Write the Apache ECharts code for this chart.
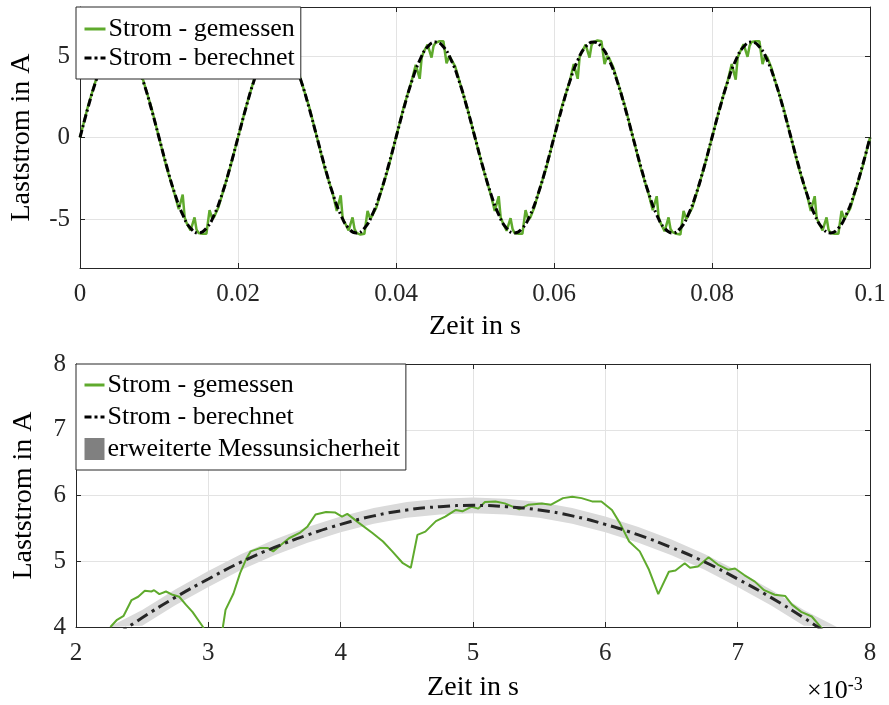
<!DOCTYPE html>
<html>
<head>
<meta charset="utf-8">
<script src="https://cdn.jsdelivr.net/npm/echarts@6/dist/echarts.min.js"></script>
<style>
  html, body { margin: 0; padding: 0; background: #fff; }
  #chart { width: 889px; height: 705px; }
</style>
</head>
<body>
<div id="chart"></div>
<script>
// ---- top plot: 0 .. 0.1 s (x values in ms) ----
const topCalcTime = [];
for (let i = 0; i <= 100; i++) topCalcTime.push(i);
const topCalc = [
  0, 1.81, 3.44, 4.73, 5.56, 5.85, 5.56, 4.73, 3.44, 1.81,
  0, -1.81, -3.44, -4.73, -5.56, -5.85, -5.56, -4.73, -3.44, -1.81,
  0, 1.81, 3.44, 4.73, 5.56, 5.85, 5.56, 4.73, 3.44, 1.81,
  0, -1.81, -3.44, -4.73, -5.56, -5.85, -5.56, -4.73, -3.44, -1.81,
  0, 1.81, 3.44, 4.73, 5.56, 5.85, 5.56, 4.73, 3.44, 1.81,
  0, -1.81, -3.44, -4.73, -5.56, -5.85, -5.56, -4.73, -3.44, -1.81,
  0, 1.81, 3.44, 4.73, 5.56, 5.85, 5.56, 4.73, 3.44, 1.81,
  0, -1.81, -3.44, -4.73, -5.56, -5.85, -5.56, -4.73, -3.44, -1.81,
  0, 1.81, 3.44, 4.73, 5.56, 5.85, 5.56, 4.73, 3.44, 1.81,
  0, -1.81, -3.44, -4.73, -5.56, -5.85, -5.56, -4.73, -3.44, -1.81,
  0
];

// sample offsets (ms) inside each 10 ms half wave of the measured current
const topMeasOffsets = [0, 1, 2, 2.5, 2.75, 3, 3.25, 3.5, 4, 4.5, 4.75, 5, 5.5, 6, 6.4, 6.75, 7, 7.5, 8, 9];
const topMeas = [
  0, 1.9, 3.5, 4.5, 4.5, 3.6, 4.9, 5.2, 5.72, 4.9, 5.6, 5.85, 5.9, 5.9, 4.5, 5.0, 4.9, 4.3, 3.5, 1.9,
  0, -1.9, -3.5, -4.4, -4.5, -3.5, -4.9, -5.25, -5.7, -4.9, -5.65, -5.85, -5.9, -5.9, -4.45, -5.0, -4.85, -4.3, -3.5, -1.85,
  0, 1.85, 3.5, 4.5, 4.55, 3.65, 4.9, 5.2, 5.75, 4.95, 5.6, 5.85, 5.9, 5.95, 4.5, 5.05, 4.9, 4.3, 3.45, 1.9,
  0, -1.9, -3.45, -4.5, -4.5, -3.55, -4.95, -5.2, -5.7, -4.9, -5.6, -5.85, -5.95, -5.9, -4.5, -5.0, -4.9, -4.3, -3.5, -1.9,
  0, 1.9, 3.5, 4.45, 4.5, 3.6, 4.9, 5.25, 5.7, 4.9, 5.6, 5.8, 5.9, 5.9, 4.55, 5.0, 4.9, 4.35, 3.5, 1.85,
  0, -1.85, -3.5, -4.5, -4.55, -3.6, -4.9, -5.2, -5.72, -4.95, -5.6, -5.85, -5.9, -5.9, -4.45, -5.05, -4.9, -4.3, -3.45, -1.9,
  0, 1.9, 3.45, 4.5, 4.5, 3.6, 4.95, 5.2, 5.7, 4.9, 5.65, 5.85, 5.95, 5.9, 4.5, 5.0, 4.85, 4.3, 3.5, 1.9,
  0, -1.9, -3.5, -4.45, -4.5, -3.6, -4.9, -5.25, -5.75, -4.9, -5.6, -5.8, -5.9, -5.95, -4.5, -5.0, -4.9, -4.3, -3.5, -1.85,
  0, 1.85, 3.5, 4.5, 4.55, 3.55, 4.9, 5.2, 5.72, 4.95, 5.6, 5.85, 5.9, 5.9, 4.5, 5.05, 4.9, 4.3, 3.45, 1.9,
  0, -1.9, -3.45, -4.5, -4.5, -3.6, -4.95, -5.2, -5.7, -4.9, -5.65, -5.85, -5.9, -5.9, -4.5, -5.0, -4.9, -4.35, -3.5, -1.9,
  0
];
const topYTicks = [-5, 0, 5];

// ---- bottom plot: zoom 2 .. 8 ms ----
const botCalcTime = [2, 2.25, 2.5, 2.75, 3, 3.25, 3.5, 3.75, 4, 4.25, 4.5, 4.75, 5,
  5.25, 5.5, 5.75, 6, 6.25, 6.5, 6.75, 7, 7.25, 7.5, 7.75, 8];
const botCalc = [3.44, 3.8, 4.14, 4.45, 4.73, 4.99, 5.21, 5.4, 5.56, 5.69, 5.78, 5.83, 5.85,
  5.83, 5.78, 5.69, 5.56, 5.4, 5.21, 4.99, 4.73, 4.45, 4.14, 3.8, 3.44];
const uncertainty = 0.12;

const botMeasTime = [2.26, 2.31, 2.36, 2.42, 2.47, 2.52, 2.57, 2.59, 2.63, 2.68, 2.73, 2.78, 2.83, 2.88, 2.96,
  3.03, 3.11, 3.13, 3.19, 3.24, 3.29, 3.32, 3.39, 3.45, 3.49, 3.55, 3.61, 3.69, 3.75, 3.81, 3.89, 3.96,
  4.01, 4.05, 4.14, 4.24, 4.32, 4.39, 4.47, 4.53, 4.58, 4.64, 4.72, 4.79, 4.87, 4.92, 4.99,
  5.04, 5.09, 5.17, 5.24, 5.35, 5.42, 5.52, 5.59, 5.68, 5.75, 5.82, 5.9, 5.97,
  6.05, 6.11, 6.18, 6.26, 6.33, 6.4, 6.48, 6.53, 6.6, 6.64, 6.7, 6.78, 6.85, 6.93, 6.98,
  7.05, 7.13, 7.2, 7.28, 7.36, 7.41, 7.48, 7.56, 7.64];
const botMeas = [4.0, 4.11, 4.17, 4.41, 4.46, 4.55, 4.54, 4.56, 4.5, 4.54, 4.49, 4.46, 4.34, 4.23, 4.0,
  3.6, 4.0, 4.26, 4.51, 4.82, 5.05, 5.15, 5.2, 5.2, 5.15, 5.25, 5.35, 5.43, 5.53, 5.71, 5.75, 5.74,
  5.68, 5.72, 5.58, 5.43, 5.3, 5.15, 4.97, 4.9, 5.4, 5.45, 5.61, 5.68, 5.78, 5.76, 5.83,
  5.8, 5.9, 5.91, 5.88, 5.79, 5.86, 5.88, 5.86, 5.96, 5.98, 5.96, 5.91, 5.91,
  5.78, 5.58, 5.3, 5.15, 4.87, 4.5, 4.84, 4.86, 4.97, 4.9, 4.92, 5.06, 4.95, 4.87, 4.89,
  4.79, 4.69, 4.56, 4.49, 4.47, 4.34, 4.23, 4.16, 3.97];

const FONT = "'Liberation Serif', 'Times New Roman', serif";
const GREEN = '#5FAA2D';
const AXIS = '#262626';
const GRIDLINE = '#e3e3e3';

function pairs(xs, ys) {
  return xs.map(function (x, i) { return [x, ys[i]]; });
}

const topMeasData = [];
for (let h = 0; h < 10; h++) {
  topMeasOffsets.forEach(function (o, k) {
    topMeasData.push([h * 10 + o, topMeas[h * topMeasOffsets.length + k]]);
  });
}
topMeasData.push([100, topMeas[topMeas.length - 1]]);

// band polygon: upper edge left->right, lower edge right->left
function renderBand(params, api) {
  if (params.dataIndex !== 0) return null;
  const pts = [];
  for (let i = 0; i < botCalcTime.length; i++) {
    pts.push(api.coord([botCalcTime[i], botCalc[i] + uncertainty]));
  }
  for (let i = botCalcTime.length - 1; i >= 0; i--) {
    pts.push(api.coord([botCalcTime[i], botCalc[i] - uncertainty]));
  }
  const cs = params.coordSys;
  return {
    type: 'polygon',
    shape: { points: echarts.graphic.clipPointsByRect(pts, cs) },
    style: { fill: '#dadada' },
    silent: true
  };
}

function boxAxis(extra) {
  return Object.assign({
    type: 'value',
    axisLine: { show: true, onZero: false, lineStyle: { color: AXIS, width: 1 } },
    axisTick: { show: true, inside: true, length: 5, lineStyle: { color: AXIS } },
    axisLabel: { show: false },
    splitLine: { show: false }
  }, extra);
}

const tickFont = { fontFamily: FONT, fontSize: 25, color: '#262626' };
const nameFont = { fontFamily: FONT, fontSize: 28, color: '#000' };
const legendText = { fontFamily: FONT, fontSize: 26, color: '#000', padding: [0, 0, 0, -2] };
const noSymbol = { opacity: 0 };

const chart = echarts.init(document.getElementById('chart'));
chart.setOption({
  animation: false,
  backgroundColor: '#fff',
  grid: [
    { left: 75, top: 7, width: 795, height: 261 },
    { left: 76, top: 364, width: 794, height: 263 }
  ],
  xAxis: [
    boxAxis({
      gridIndex: 0, position: 'bottom', min: 0, max: 100, interval: 20,
      axisLabel: Object.assign({ show: true, margin: 14, formatter: function (v) { return String(v / 1000); } }, tickFont),
      splitLine: { show: true, lineStyle: { color: GRIDLINE } },
      name: 'Zeit in s', nameLocation: 'middle', nameGap: 45, nameTextStyle: nameFont
    }),
    boxAxis({ gridIndex: 0, position: 'top', min: 0, max: 100, interval: 20 }),
    boxAxis({
      gridIndex: 1, position: 'bottom', min: 2, max: 8, interval: 1,
      axisLabel: Object.assign({ show: true, margin: 14 }, tickFont),
      splitLine: { show: true, lineStyle: { color: GRIDLINE } },
      name: 'Zeit in s', nameLocation: 'middle', nameGap: 47, nameTextStyle: nameFont
    }),
    boxAxis({ gridIndex: 1, position: 'top', min: 2, max: 8, interval: 1 })
  ],
  yAxis: [
    boxAxis({
      gridIndex: 0, position: 'left', min: -8, max: 8,
      axisTick: { show: true, inside: true, length: 5, lineStyle: { color: AXIS }, customValues: topYTicks },
      axisLabel: Object.assign({ show: true, margin: 10, customValues: topYTicks }, tickFont),
      splitLine: { show: true, lineStyle: { color: GRIDLINE }, customValues: topYTicks },
      name: 'Laststrom in A', nameLocation: 'middle', nameGap: 44, nameTextStyle: nameFont
    }),
    boxAxis({
      gridIndex: 0, position: 'right', min: -8, max: 8,
      axisTick: { show: true, inside: true, length: 5, lineStyle: { color: AXIS }, customValues: topYTicks }
    }),
    boxAxis({
      gridIndex: 1, position: 'left', min: 4, max: 8, interval: 1,
      axisLabel: Object.assign({ show: true, margin: 10 }, tickFont),
      splitLine: { show: true, lineStyle: { color: GRIDLINE } },
      name: 'Laststrom in A', nameLocation: 'middle', nameGap: 38, nameTextStyle: nameFont
    }),
    boxAxis({ gridIndex: 1, position: 'right', min: 4, max: 8, interval: 1 })
  ],
  legend: [
    {
      left: 76, top: 7, orient: 'vertical', selectedMode: false, z: 20,
      data: [
        { name: 'Strom - gemessen', itemStyle: noSymbol, lineStyle: { width: 3 } },
        { name: 'Strom - berechnet', itemStyle: noSymbol, lineStyle: { width: 3, type: [7, 3, 3, 3] } }
      ],
      itemWidth: 21, itemHeight: 14, itemGap: 3,
      padding: [9, 6, 8, 7],
      backgroundColor: '#fff', borderColor: AXIS, borderWidth: 1,
      textStyle: legendText
    },
    {
      left: 76, top: 364, orient: 'vertical', selectedMode: false, z: 20,
      data: [
        { name: 'Strom - gemessen', itemStyle: noSymbol, lineStyle: { width: 3 } },
        { name: 'Strom - berechnet', itemStyle: noSymbol, lineStyle: { width: 3, type: [7, 3, 3, 3] } },
        { name: 'erweiterte Messunsicherheit', icon: 'rect', itemStyle: { color: '#808080' } }
      ],
      itemWidth: 20, itemHeight: 22, itemGap: 6,
      padding: [8, 6, 8, 7],
      backgroundColor: '#fff', borderColor: AXIS, borderWidth: 1,
      textStyle: legendText
    }
  ],
  graphic: [
    {
      type: 'text', left: 807, top: 676, z: 10,
      style: {
        text: '{a|×10}{b|-3}',
        rich: {
          a: { fontFamily: FONT, fontSize: 26, color: '#262626' },
          b: { fontFamily: FONT, fontSize: 18, color: '#262626', verticalAlign: 'top', padding: [0, 0, 12, 0] }
        }
      }
    }
  ],
  series: [
    {
      name: 'Strom - gemessen', type: 'line', xAxisIndex: 0, yAxisIndex: 0,
      data: topMeasData, symbol: 'none',
      lineStyle: { color: GREEN, width: 2.5 }, itemStyle: { color: GREEN }
    },
    {
      name: 'Strom - berechnet', type: 'line', xAxisIndex: 0, yAxisIndex: 0,
      data: pairs(topCalcTime, topCalc), symbol: 'none', smooth: true,
      lineStyle: { color: '#000', width: 3, type: [8, 3, 2, 3] }, itemStyle: { color: '#000' }
    },
    {
      name: 'erweiterte Messunsicherheit', type: 'custom', xAxisIndex: 2, yAxisIndex: 2,
      data: pairs(botCalcTime, botCalc), renderItem: renderBand, clip: true,
      itemStyle: { color: '#808080' }
    },
    {
      name: 'Strom - gemessen', type: 'line', xAxisIndex: 2, yAxisIndex: 2,
      data: pairs(botMeasTime, botMeas), symbol: 'none',
      lineStyle: { color: GREEN, width: 2 }, itemStyle: { color: GREEN }
    },
    {
      name: 'Strom - berechnet', type: 'line', xAxisIndex: 2, yAxisIndex: 2,
      data: pairs(botCalcTime, botCalc), symbol: 'none', smooth: true,
      lineStyle: { color: '#262626', width: 3, type: [12, 5, 3, 5] }, itemStyle: { color: '#262626' }
    }
  ]
});
</script>
</body>
</html>
